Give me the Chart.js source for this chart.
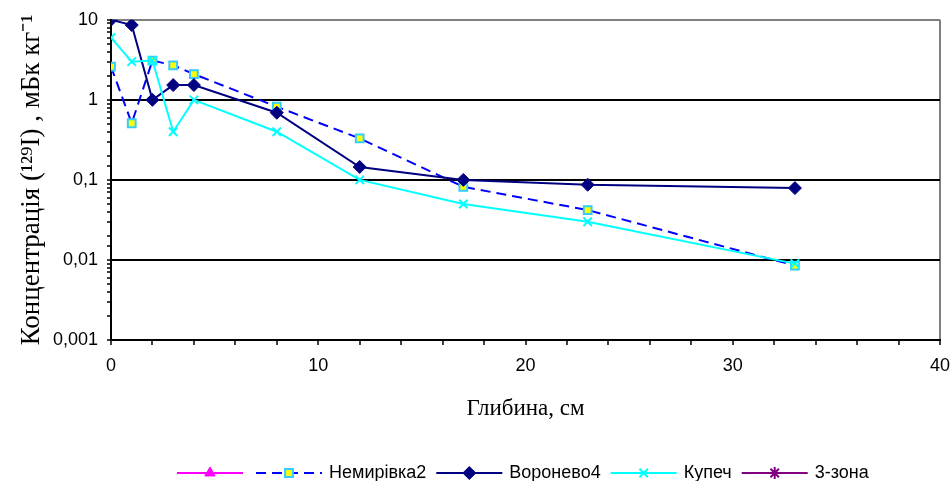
<!DOCTYPE html>
<html lang="uk">
<head>
<meta charset="utf-8">
<title>Концентрація 129I за глибиною</title>
<script src="https://cdn.jsdelivr.net/npm/chart.js@4.4.1/dist/chart.umd.min.js"></script>
<style>
    html, body { margin: 0; padding: 0; background: #ffffff; }
    #wrap { width: 952px; height: 481px; position: relative; }
</style>
</head>
<body>
<div id="wrap"><canvas id="depthChart"></canvas></div>
<script>
// --- ДАНІ ---
const depths = [0, 1, 2, 3, 4, 8, 12, 17, 23, 33];
const nemyrivka2 = [2.6, 0.51, 3.1, 2.7, 2.1, 0.82, 0.33, 0.082, 0.042, 0.0085];
const voronevo4 = [10, 8.6, 1.0, 1.53, 1.53, 0.69, 0.145, 0.1, 0.087, 0.079];
const kupech = [6.0, 3.0, 3.1, 0.4, 1.0, 0.4, 0.1, 0.05, 0.03, 0.009];
const seriesNames = ['', 'Немирівка2', 'Воронево4', 'Купеч', '3-зона'];
const yTickLabels = ['0,001', '0,01', '0,1', '1', '10'];
const xTickLabels = ['0', '10', '20', '30', '40'];

const tickFont = { family: '"Liberation Sans", Arial, sans-serif', size: 18 };
const titleFont = { family: '"Liberation Serif", "Times New Roman", serif', size: 23 };
const yTitleFont = { family: '"Liberation Serif", "Times New Roman", serif', size: 27 };

function toPoints(values) {
    return values.map((v, i) => ({ x: depths[i], y: v }));
}

function isDecade(v) {
    const l = Math.log10(v);
    return Math.abs(l - Math.round(l)) < 1e-6;
}

// Легенда в стилі Excel: лінія з маркером посередині, потім підпис
const excelLegend = {
    id: 'excelLegend',
    afterDraw(chart) {
        const ctx = chart.ctx;
        const sets = chart.data.datasets;
        const lineLen = 66, gapText = 7, gapItem = 10, y = 473;
        ctx.save();
        ctx.font = '18px "Liberation Sans", Arial, sans-serif';
        let x = chart.chartArea.left + 66;

        sets.forEach(ds => {
            // лінія
            ctx.strokeStyle = ds.borderColor;
            ctx.lineWidth = ds.borderWidth;
            ctx.setLineDash(ds.borderDash || []);
            ctx.beginPath();
            ctx.moveTo(x, y);
            ctx.lineTo(x + lineLen, y);
            ctx.stroke();
            ctx.setLineDash([]);

            // маркер
            ctx.fillStyle = ds.pointBackgroundColor;
            ctx.strokeStyle = ds.pointBorderColor;
            ctx.lineWidth = ds.pointBorderWidth;
            Chart.helpers.drawPoint(ctx, {
                pointStyle: ds.pointStyle,
                radius: ds.pointRadius,
                borderWidth: ds.pointBorderWidth,
                rotation: 0
            }, x + lineLen / 2, y);

            x += lineLen;
            if (ds.label) {
                ctx.fillStyle = '#000000';
                ctx.textBaseline = 'middle';
                ctx.textAlign = 'left';
                ctx.fillText(ds.label, x + gapText, y);
                x += gapText + ctx.measureText(ds.label).width + gapItem;
            } else {
                x += gapItem + 3;
            }
        });
        ctx.restore();
    }
};

document.addEventListener('DOMContentLoaded', function () {
    const ctx = document.getElementById('depthChart').getContext('2d');

    new Chart(ctx, {
        type: 'line',
        data: {
            datasets: [
                {
                    label: seriesNames[0],
                    data: [],
                    borderColor: '#FF00FF',
                    borderWidth: 2,
                    pointStyle: 'triangle',
                    pointRadius: 6,
                    pointBackgroundColor: '#FF00FF',
                    pointBorderColor: '#FF00FF',
                    pointBorderWidth: 1,
                    order: 5
                },
                {
                    label: seriesNames[1],
                    data: toPoints(nemyrivka2),
                    borderColor: '#0000FF',
                    borderWidth: 2,
                    borderDash: [10, 6],
                    pointStyle: 'rect',
                    pointRadius: 5.5,
                    pointBackgroundColor: '#FFFF00',
                    pointBorderColor: '#33CCFF',
                    pointBorderWidth: 2,
                    order: 4
                },
                {
                    label: seriesNames[2],
                    data: toPoints(voronevo4),
                    borderColor: '#000080',
                    borderWidth: 2,
                    pointStyle: 'rectRot',
                    pointRadius: 6.5,
                    pointBackgroundColor: '#000080',
                    pointBorderColor: '#000080',
                    pointBorderWidth: 1,
                    order: 3
                },
                {
                    label: seriesNames[3],
                    data: toPoints(kupech),
                    borderColor: '#00FFFF',
                    borderWidth: 2,
                    pointStyle: 'crossRot',
                    pointRadius: 6,
                    pointBackgroundColor: '#00FFFF',
                    pointBorderColor: '#00FFFF',
                    pointBorderWidth: 2,
                    order: 2
                },
                {
                    label: seriesNames[4],
                    data: [],
                    borderColor: '#800080',
                    borderWidth: 2,
                    pointStyle: 'star',
                    pointRadius: 6,
                    pointBackgroundColor: '#800080',
                    pointBorderColor: '#800080',
                    pointBorderWidth: 2,
                    order: 1
                }
            ]
        },
        options: {
            responsive: true,
            maintainAspectRatio: false,
            animation: false,
            layout: { padding: { top: 19, right: 12, left: 0, bottom: 0 } },
            elements: { line: { tension: 0 } },
            plugins: {
                legend: { display: false },
                tooltip: { enabled: false }
            },
            scales: {
                x: {
                    type: 'linear',
                    min: 0,
                    max: 40,
                    ticks: {
                        stepSize: 2,
                        autoSkip: false,
                        maxRotation: 0,
                        padding: 10,
                        color: '#000000',
                        font: tickFont,
                        callback: v => (v % 10 === 0 ? xTickLabels[v / 10] : '')
                    },
                    grid: {
                        color: c => (c.tick && c.tick.value === 40 ? '#808080' : 'rgba(0,0,0,0)'),
                        lineWidth: 2,
                        tickColor: '#000000',
                        tickLength: 5,
                        tickWidth: 1.5
                    },
                    border: { color: '#000000', width: 2 },
                    title: {
                        display: true,
                        text: 'Глибина, см',
                        color: '#000000',
                        font: titleFont,
                        padding: { top: 0, bottom: 58 }
                    },
                    afterFit: scale => {
                        scale.height = 141;
                        scale.paddingRight = 0; // підпис "40" може виходити за межі області
                    }
                },
                y: {
                    type: 'logarithmic',
                    min: 0.001,
                    max: 10,
                    ticks: {
                        autoSkip: false,
                        padding: 9,
                        color: '#000000',
                        font: tickFont,
                        callback: v => (isDecade(v) ? yTickLabels[Math.round(Math.log10(v)) + 3] : '')
                    },
                    grid: {
                        color: c => {
                            if (!c.tick || !isDecade(c.tick.value)) return 'rgba(0,0,0,0)';
                            return c.tick.value === 10 ? '#808080' : '#000000';
                        },
                        lineWidth: 2,
                        tickColor: '#000000',
                        tickLength: c => (c.tick && isDecade(c.tick.value) ? 6 : 4),
                        tickWidth: 1.5
                    },
                    border: { color: '#000000', width: 2 },
                    title: {
                        display: true,
                        text: 'Концентрація (¹²⁹I) , мБк кг⁻¹',
                        color: '#000000',
                        font: yTitleFont,
                        padding: { top: 16, bottom: 0 }
                    },
                    afterFit: scale => { scale.width = 111; }
                }
            }
        },
        plugins: [excelLegend]
    });
});
</script>
</body>
</html>
